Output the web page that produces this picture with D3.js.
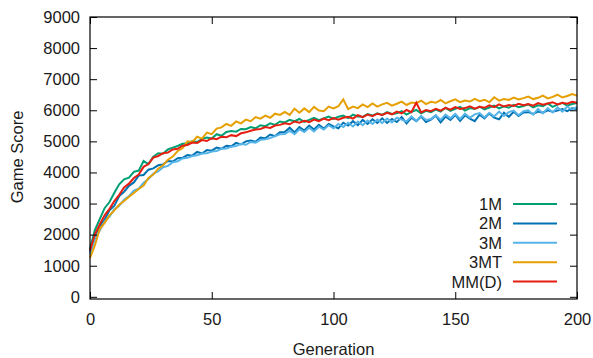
<!DOCTYPE html>
<html>
<head>
<meta charset="utf-8">
<script src="https://cdn.jsdelivr.net/npm/d3@7"></script>
<style>
  html, body { margin: 0; padding: 0; background: #fff; }
  svg { display: block; }
  text { font-family: "Liberation Sans", Arial, sans-serif; fill: #1a1a1a; }
</style>
</head>
<body>
<svg id="chart" width="593" height="358"></svg>
<script>
// Generations (every 2nd generation sampled)
const generations = [0,2,4,6,8,10,12,14,16,18,20,22,24,26,28,30,32,34,36,38,40,42,44,46,48,50,52,54,56,58,60,62,64,66,68,70,72,74,76,78,80,82,84,86,88,90,92,94,96,98,100,102,104,106,108,110,112,114,116,118,120,122,124,126,128,130,132,134,136,138,140,142,144,146,148,150,152,154,156,158,160,162,164,166,168,170,172,174,176,178,180,182,184,186,188,190,192,194,196,198,200];

const series1M = [1550,2150,2500,2850,3050,3350,3620,3780,3830,4020,
  4060,4370,4270,4510,4620,4600,4740,4800,4850,4920,
  4930,5010,4980,5080,5120,5090,5230,5180,5300,5330,
  5310,5400,5390,5460,5420,5520,5490,5580,5530,5640,
  5610,5690,5650,5720,5630,5690,5760,5680,5740,5800,
  5720,5790,5830,5750,5860,5800,5790,5880,5830,5900,
  5850,5940,5880,5900,5970,5860,5950,6010,5900,5980,
  5940,6020,5960,6080,5980,6050,6110,5990,6070,6040,
  6120,6030,6090,6150,6060,6130,6080,6170,6100,6140,
  6190,6090,6160,6130,6220,6110,6180,6240,6150,6200,
  6230];

const series2M = [1450,1880,2270,2480,2780,2930,3240,3380,3570,3680,
  3900,3920,4090,4130,4230,4260,4370,4350,4460,4470,
  4560,4540,4660,4610,4720,4700,4800,4760,4860,4840,
  4950,4900,5000,5030,4990,5120,5100,5220,5170,5290,
  5300,5440,5290,5460,5350,5510,5380,5530,5410,5560,
  5480,5420,5600,5510,5650,5520,5690,5560,5710,5590,
  5740,5590,5720,5620,5780,5580,5760,5650,5800,5620,
  5700,5830,5610,5800,5690,5850,5660,5840,5730,5650,
  5860,5740,5900,5760,5710,5920,5790,5950,5820,5930,
  5940,5880,5960,5920,6000,5950,5990,6040,5970,6060,
  6040];

const series3M = [1380,1860,2130,2420,2580,2820,2930,3120,3240,3420,
  3480,3670,3790,3960,4030,4170,4210,4330,4360,4450,
  4470,4530,4550,4610,4620,4670,4690,4760,4770,4830,
  4850,4920,4890,4980,4960,5050,5070,5110,5170,5230,
  5240,5340,5230,5390,5300,5440,5320,5470,5380,5520,
  5420,5560,5460,5600,5480,5640,5520,5670,5560,5700,
  5590,5730,5610,5760,5700,5640,5800,5660,5820,5690,
  5720,5840,5690,5860,5740,5880,5720,5890,5760,5870,
  5910,5770,5920,5800,5960,5820,5940,5990,5840,5970,
  6000,5860,6040,5900,6070,5930,6090,5960,6120,6010,
  6110];

const series3MT = [1250,1650,2180,2380,2620,2780,2960,3080,3220,3340,
  3470,3580,3820,3930,4120,4230,4410,4510,4690,4780,
  5000,4980,5150,5090,5280,5230,5410,5450,5560,5500,
  5640,5580,5700,5650,5780,5730,5830,5760,5890,5850,
  5950,5850,6050,5920,6060,5940,6110,5990,5970,6120,
  6060,6130,6350,6040,6120,6070,6190,6100,6220,6120,
  6190,6240,6150,6210,6280,6170,6250,6230,6310,6200,
  6270,6240,6330,6220,6290,6350,6260,6310,6280,6370,
  6290,6340,6260,6420,6310,6360,6330,6410,6350,6390,
  6440,6360,6400,6470,6380,6430,6500,6410,6460,6520,
  6470];

const seriesMMD = [1480,2010,2330,2620,2830,3080,3280,3520,3640,3820,
  3930,4180,4270,4480,4530,4620,4640,4740,4760,4860,
  4880,4960,4950,5040,5010,5100,5070,5150,5130,5200,
  5170,5260,5290,5340,5380,5400,5460,5430,5510,5530,
  5580,5550,5640,5600,5660,5620,5700,5650,5730,5680,
  5750,5700,5760,5790,5730,5840,5780,5860,5810,5890,
  5850,5920,5870,5960,5900,6010,5940,6240,5930,6010,
  5970,6050,5990,6080,6020,6100,6040,6070,6130,6050,
  6110,6080,6160,6100,6190,6120,6170,6140,6210,6160,
  6200,6150,6230,6180,6220,6260,6190,6240,6210,6270,
  6240];

const seriesNames = ["1M", "2M", "3M", "3MT", "MM(D)"];
const seriesValues = [series1M, series2M, series3M, series3MT, seriesMMD];
const seriesColors = ["#009e73", "#0072b2", "#56b4e9", "#e69f00", "#e51e10"];

const xTicks = [0, 50, 100, 150, 200];
const yTicks = [0, 1000, 2000, 3000, 4000, 5000, 6000, 7000, 8000, 9000];

(function () {
const svg = d3.select("#chart");
const mLeft = 90, mRight = 577, mTop = 17, mBottom = 299;
const fontSize = "16.5px";

const x = d3.scaleLinear().domain([0, 200]).range([mLeft, mRight]);
const y = d3.scaleLinear().domain([-70, 9000]).range([mBottom, mTop]);

const line = d3.line()
  .x((d, i) => x(generations[i]))
  .y(d => y(d));

const plot = svg.append("g");
seriesValues.forEach((vals, k) => {
  plot.append("path")
    .datum(vals)
    .attr("fill", "none")
    .attr("stroke", seriesColors[k])
    .attr("stroke-width", 2)
    .attr("stroke-linejoin", "miter")
    .attr("d", line);
});

const tickLen = 7;
const axB = svg.append("g").attr("transform", `translate(0,${mBottom})`)
  .call(d3.axisBottom(x).tickValues(xTicks).tickSize(-tickLen).tickPadding(14).tickFormat(d3.format("d")));
const axT = svg.append("g").attr("transform", `translate(0,${mTop})`)
  .call(d3.axisTop(x).tickValues(xTicks).tickSize(-tickLen).tickFormat(""));
const axL = svg.append("g").attr("transform", `translate(${mLeft},0)`)
  .call(d3.axisLeft(y).tickValues(yTicks).tickSize(-tickLen).tickPadding(10).tickFormat(d3.format("d")));
const axR = svg.append("g").attr("transform", `translate(${mRight},0)`)
  .call(d3.axisRight(y).tickValues(yTicks).tickSize(-tickLen).tickFormat(""));

[axB, axT, axL, axR].forEach(a => {
  a.select(".domain").remove();
  a.selectAll(".tick line").attr("stroke", "#000").attr("stroke-width", 1);
  a.selectAll("text").style("font-family", "'Liberation Sans', Arial, sans-serif")
    .style("font-size", fontSize).attr("fill", "#1a1a1a");
});
axB.selectAll("text").attr("dy", "0.71em");

svg.append("rect")
  .attr("x", mLeft).attr("y", mTop)
  .attr("width", mRight - mLeft).attr("height", mBottom - mTop)
  .attr("fill", "none").attr("stroke", "#000").attr("stroke-width", 1.2);

svg.append("text")
  .attr("x", (mLeft + mRight) / 2).attr("y", 355)
  .attr("text-anchor", "middle")
  .style("font-size", fontSize)
  .text("Generation");

svg.append("text")
  .attr("transform", "translate(23,157) rotate(-90)")
  .attr("text-anchor", "middle")
  .style("font-size", fontSize)
  .text("Game Score");

const legend = svg.append("g");
seriesNames.forEach((name, k) => {
  const ly = 204 + k * 19.4;
  legend.append("text")
    .attr("x", 502).attr("y", ly + 6)
    .attr("text-anchor", "end")
    .style("font-size", fontSize)
    .text(name);
  legend.append("line")
    .attr("x1", 513).attr("x2", 557)
    .attr("y1", ly).attr("y2", ly)
    .attr("stroke", seriesColors[k]).attr("stroke-width", 2);
});
})();
</script>
</body>
</html>
